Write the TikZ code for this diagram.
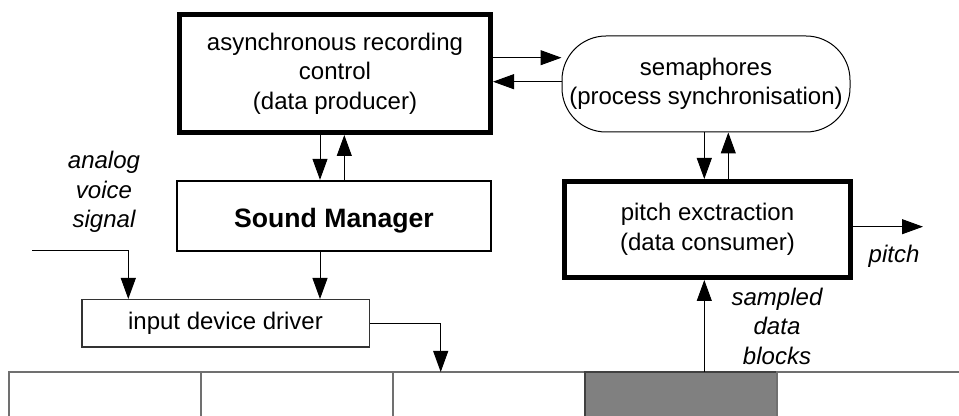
\documentclass[tikz,border=0pt]{standalone}
\usepackage{fontspec}
\setmainfont{Liberation Sans}
\usetikzlibrary{arrows.meta,positioning}
\definecolor{blockgray}{HTML}{808080}
\definecolor{cellline}{HTML}{707070}

\begin{document}
\begin{tikzpicture}[x=0.5pt, y=-0.5pt,
  task/.style={draw, line width=2.5pt, fill=white, align=center, inner sep=0pt, font=\fontsize{12}{14.75}\selectfont},
  mgrbox/.style={draw, line width=1.15pt, fill=white, align=center, inner sep=0pt, text depth=0pt, font=\fontsize{13.3}{16}\selectfont\bfseries},
  sync/.style={draw, line width=0.5pt, rounded corners=22pt, fill=white, align=center, inner sep=0pt, font=\fontsize{12}{14.75}\selectfont},
  driver/.style={draw=black!80, line width=0.75pt, fill=white, align=center, inner sep=0pt, font=\fontsize{12}{14.75}\selectfont},
  cell/.style={line width=0.6pt, minimum width=96pt, minimum height=40pt, inner sep=0pt, outer sep=0pt, anchor=north west},
  note/.style={align=center, inner sep=0pt, font=\fontsize{12}{14.75}\selectfont\itshape},
  arrow/.style={-{Triangle[length=10.5pt, width=7.5pt]}, line width=0.5pt}
]
\useasboundingbox (0,0) rectangle (959,416);
\clip (0,0) rectangle (959,416);

% processes and the driver
\node[task, minimum width=155.5pt, minimum height=59pt] (ctrl) at (335,73.5) {asynchronous recording\\control\\(data producer)};
\node[mgrbox, minimum width=157pt, minimum height=35pt] (mgr) at (334,216) {\raisebox{-2pt}{Sound Manager}};
\node[sync, minimum width=144pt, minimum height=48pt] (sema) at (706,84) {semaphores\\(process synchronisation)};
\node[task, minimum width=143pt, minimum height=48pt] (pitch) at (707.5,229.5) {pitch exctraction\\(data consumer)};
\node[driver, minimum width=143.75pt, minimum height=23.75pt] (drv) at (225.5,323.5) {input device driver};

% ring buffer along the bottom
\foreach \i/\xl/\fc/\lc in {1/9/white/cellline,2/201/white/cellline,3/393/white/cellline,4/585/blockgray/black!75,5/777/white/cellline}
  \node[cell, draw=\lc, fill=\fc] (c\i) at (\xl,372) {};

% labels
\node[note] (sig) at (104,192) {analog\\voice\\signal};
\node[note] (plbl) at (894,256) {pitch};
\node[note] (blk) at (777,326) {sampled\\data\\blocks};

% producer <-> sound manager
\coordinate (d1) at ([xshift=-7.5pt]ctrl.south);
\coordinate (u1) at ([xshift=4.65pt]ctrl.south);
\draw[arrow] (d1) -- (d1 |- mgr.north);
\draw[arrow] (u1 |- mgr.north) -- (u1);

% producer <-> semaphores
\coordinate (h1) at ([yshift=7.9pt]ctrl.east);
\coordinate (h2) at ([yshift=-4.1pt]ctrl.east);
\draw[arrow] (h1) -- (h1 -| sema.west);
\draw[arrow] (h2 -| sema.west) -- (h2);

% semaphores <-> consumer
\coordinate (d2) at ([xshift=-0.85pt]sema.south);
\coordinate (u2) at ([xshift=11.15pt]sema.south);
\draw[arrow] (d2) -- (d2 |- pitch.north);
\draw[arrow] (u2 |- pitch.north) -- (u2);

% into and out of the driver
\coordinate (d3) at ([xshift=-7pt]mgr.south);
\draw[arrow] (d3) -- (d3 |- drv.north);
\coordinate (vin) at (32,251);
\draw[arrow] (vin) -| ([xshift=-48.6pt]drv.north);
\draw[arrow] (drv.east) -| ([xshift=-24.15pt]c3.north);

% sampled blocks up to the consumer, pitch out
\coordinate (u3) at ([xshift=11.65pt]c4.north);
\draw[arrow] (u3) -- (u3 |- pitch.south);
\coordinate (pout) at (923,226.7);
\draw[arrow] (pout -| pitch.east) -- (pout);
\end{tikzpicture}
\end{document}
